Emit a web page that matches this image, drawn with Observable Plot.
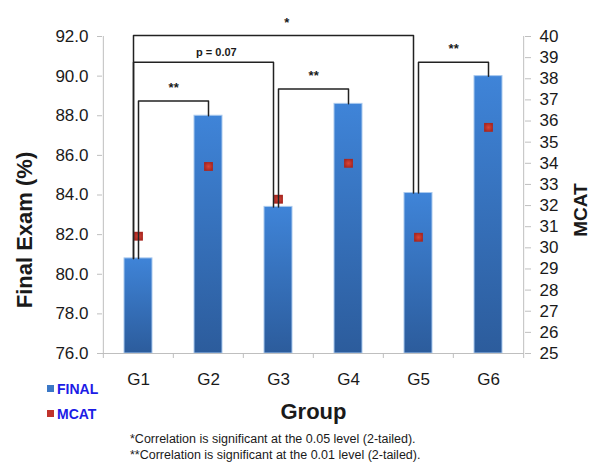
<!DOCTYPE html>
<html><head><meta charset="utf-8">
<script src="https://cdn.jsdelivr.net/npm/d3@7"></script>
<script src="https://cdn.jsdelivr.net/npm/@observablehq/plot@0.6"></script>
<style>
body{margin:0;background:#fff;font-family:"Liberation Sans",Arial,sans-serif;}
#wrap{position:relative;width:594px;height:466px;}
#wrap svg{position:absolute;left:0;top:0;}
.leg{position:absolute;font-weight:bold;font-size:14px;color:#1c1ce6;line-height:14px;}
.sw{position:absolute;width:7px;height:7px;}
.note{position:absolute;left:130px;font-size:12.5px;color:#1a1a1a;line-height:15px;white-space:nowrap;}
</style></head><body><div id="wrap"></div>
<script>
const groups = ["G1", "G2", "G3", "G4", "G5", "G6"];
const finalExam = [80.8, 88.0, 83.4, 88.6, 84.1, 90.0];
const mcatScore = [30.55, 33.85, 32.3, 34.0, 30.5, 35.7];
const finalTicks = [76, 78, 80, 82, 84, 86, 88, 90, 92];
const mcatTicks = [25, 26, 27, 28, 29, 30, 31, 32, 33, 34, 35, 36, 37, 38, 39, 40];
const bracketFrom = ["G1", "G1", "G3", "G1", "G5"];
const bracketTo = ["G2", "G3", "G4", "G5", "G6"];
const bracketLevel = [88.75, 90.7, 89.35, 92.05, 90.7];
const bracketLabel = ["**", "p = 0.07", "**", "*", "**"];
const legendLabels = ["FINAL", "MCAT"];
const footnotes = ["*Correlation is significant at the 0.05 level (2-tailed).", "**Correlation is significant at the 0.01 level (2-tailed)."];

const W = 594, H = 466, mL = 102, mR = 70, mT = 36, mB = 113;
const step = (W - mL - mR) / groups.length;
const yMin = finalTicks[0], yMax = finalTicks[finalTicks.length - 1];
const mMin = mcatTicks[0], mMax = mcatTicks[mcatTicks.length - 1];
const toLeft = m => yMin + (m - mMin) * (yMax - yMin) / (mMax - mMin);
const fromLeft = v => mMin + (v - yMin) * (mMax - mMin) / (yMax - yMin);

const data = groups.map((g, i) => ({group: g, final: finalExam[i], mcat: mcatScore[i]}));
const finalOf = Object.fromEntries(data.map(d => [d.group, d.final]));
const brackets = bracketFrom.map((f, i) => ({
  from: f, to: bracketTo[i], level: bracketLevel[i], label: bracketLabel[i],
  span: groups.indexOf(bracketTo[i]) - groups.indexOf(f)
}));

const axisGray = "#bfbfbf", ink = "#1a1a1a";

const bracketMarks = brackets.flatMap(b => {
  const shift = b.span > 1 ? -5 : 0;
  const pts = [
    {x: b.from, y: finalOf[b.from]}, {x: b.from, y: b.level},
    {x: b.to, y: b.level}, {x: b.to, y: finalOf[b.to]}
  ];
  const isStar = /^\*+$/.test(b.label);
  return [
    Plot.line(pts, {x: "x", y: "y", dx: shift, stroke: "#222", strokeWidth: 1.5}),
    Plot.text([b], {x: "from", y: "level", text: "label", dx: b.span * step / 2 + shift / 2 + (b.span > 1 ? 10 : 0),
      dy: isStar ? -13 : -10, lineAnchor: "middle", fontWeight: "bold", fontSize: isStar ? 13 : 11, fill: ink})
  ];
});

const chart = Plot.plot({
  width: W, height: H,
  marginLeft: mL, marginRight: mR, marginTop: mT, marginBottom: mB,
  style: {fontFamily: "'Liberation Sans', Arial, sans-serif", fontSize: "17px", color: ink, background: "transparent"},
  x: {domain: groups, paddingInner: 0.6, paddingOuter: 0.3},
  y: {domain: [yMin, yMax]},
  marks: [
    Plot.barY(data, {x: "group", y1: yMin, y2: "final", fill: "url(#barGrad)", stroke: "#a9c9ee", strokeWidth: 1}),
    Plot.ruleY([yMin], {stroke: axisGray, strokeWidth: 1}),
    Plot.ruleX([groups[0]], {y1: yMin, y2: yMax, dx: -step / 2, stroke: axisGray}),
    Plot.ruleX([groups[groups.length - 1]], {y1: yMin, y2: yMax, dx: step / 2, stroke: axisGray}),
    Plot.axisX(groups, {tickSize: 5, tickFormat: () => "", dx: -step / 2, stroke: axisGray, label: null}),
    Plot.axisX([groups[groups.length - 1]], {tickSize: 5, tickFormat: () => "", dx: step / 2, stroke: axisGray, label: null}),
    Plot.axisX(groups, {tickSize: 0, tickPadding: 19, fontSize: 17, label: null, fill: ink}),
    Plot.axisY(finalTicks, {anchor: "left", tickSize: 5, tickPadding: 9, tickFormat: d => d.toFixed(1), stroke: axisGray, fill: ink, fontSize: 17, label: null}),
    Plot.axisY(mcatTicks.map(toLeft), {anchor: "right", tickSize: 6, tickPadding: 9, tickFormat: d => String(Math.round(fromLeft(d))), stroke: axisGray, fill: ink, fontSize: 17, label: null}),
    Plot.dot(data, {x: "group", y: d => toLeft(d.mcat), symbol: "square", r: 5, fill: "url(#dotGrad)"}),
    ...bracketMarks,
    Plot.text(["Group"], {frameAnchor: "bottom", dy: 58, lineAnchor: "middle", textAnchor: "middle", fontSize: 22, fontWeight: "bold", fill: ink}),
    Plot.text(["Final Exam (%)"], {frameAnchor: "left", dx: -78, dy: 35, rotate: -90, textAnchor: "middle", lineAnchor: "middle", fontSize: 22, fontWeight: "bold", fill: ink}),
    Plot.text(["MCAT"], {frameAnchor: "right", dx: 56, dy: 15, rotate: -90, textAnchor: "middle", lineAnchor: "middle", fontSize: 19, fontWeight: "bold", fill: ink})
  ]
});

const svg = d3.select(chart);
const defs = svg.insert("defs", ":first-child");
const bg = defs.append("linearGradient").attr("id", "barGrad").attr("x1", 0).attr("y1", 0).attr("x2", 0).attr("y2", 1);
bg.append("stop").attr("offset", "0%").attr("stop-color", "#3f84d8");
bg.append("stop").attr("offset", "100%").attr("stop-color", "#2c5c9c");
const rg = defs.append("radialGradient").attr("id", "dotGrad");
rg.append("stop").attr("offset", "0%").attr("stop-color", "#d8463a");
rg.append("stop").attr("offset", "100%").attr("stop-color", "#a92720");

const wrap = document.getElementById("wrap");
wrap.appendChild(chart);

const legendColors = ["#3b78c6", "#c0332c"];
const legendTop = [382, 407];
legendLabels.forEach((t, i) => {
  const sw = document.createElement("div");
  sw.className = "sw";
  sw.style.left = "47px"; sw.style.top = (legendTop[i] + 3) + "px"; sw.style.background = legendColors[i];
  wrap.appendChild(sw);
  const lb = document.createElement("div");
  lb.className = "leg";
  lb.style.left = "57px"; lb.style.top = legendTop[i] + "px";
  lb.textContent = t;
  wrap.appendChild(lb);
});
footnotes.forEach((t, i) => {
  const n = document.createElement("div");
  n.className = "note";
  n.style.top = (432 + i * 16) + "px";
  n.textContent = t;
  wrap.appendChild(n);
});
</script>
</body></html>
